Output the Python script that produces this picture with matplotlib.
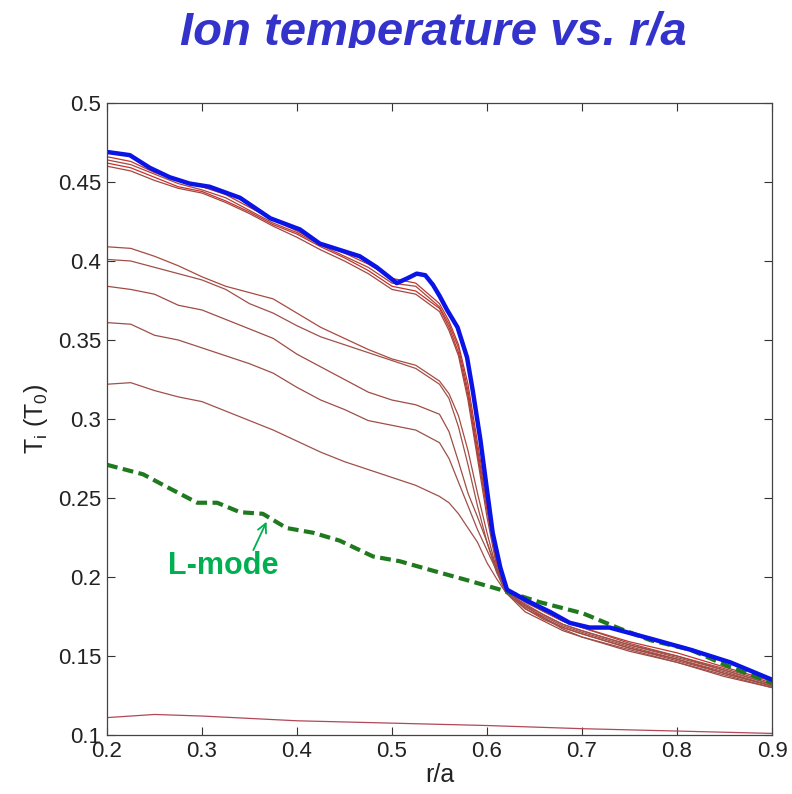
import matplotlib
matplotlib.use("Agg")
import matplotlib.pyplot as plt
from matplotlib.transforms import Bbox, TransformedBbox

plt.rcParams['font.family'] = ['Liberation Sans', 'DejaVu Sans']

# radial grid shared by the thin profiles
r = [0.20, 0.225, 0.25, 0.275, 0.30, 0.325, 0.35, 0.375, 0.40, 0.425, 0.45, 0.475,
     0.50, 0.525, 0.55, 0.56, 0.57, 0.58, 0.59, 0.60, 0.61, 0.62, 0.64, 0.66,
     0.68, 0.70, 0.75, 0.80, 0.85, 0.90]

# profiles close to the final H-mode state
ti_a1 = [0.466, 0.463, 0.456, 0.451, 0.447, 0.442, 0.434, 0.426, 0.419, 0.411, 0.405, 0.398,
         0.389, 0.386, 0.373, 0.362, 0.347, 0.322, 0.285, 0.248, 0.213, 0.193, 0.185, 0.178,
         0.172, 0.168, 0.159, 0.152, 0.143, 0.134]
ti_a2 = [0.464, 0.461, 0.455, 0.449, 0.445, 0.440, 0.432, 0.424, 0.418, 0.410, 0.403, 0.396,
         0.386, 0.384, 0.371, 0.360, 0.345, 0.318, 0.281, 0.245, 0.211, 0.192, 0.182, 0.176,
         0.170, 0.166, 0.157, 0.150, 0.141, 0.132]
ti_a3 = [0.462, 0.459, 0.453, 0.447, 0.444, 0.438, 0.431, 0.423, 0.417, 0.409, 0.402, 0.394,
         0.384, 0.381, 0.370, 0.358, 0.342, 0.315, 0.278, 0.242, 0.209, 0.191, 0.180, 0.174,
         0.168, 0.164, 0.155, 0.148, 0.139, 0.131]
ti_a4 = [0.460, 0.457, 0.451, 0.446, 0.443, 0.437, 0.430, 0.422, 0.415, 0.407, 0.400, 0.392,
         0.382, 0.379, 0.368, 0.356, 0.340, 0.312, 0.275, 0.238, 0.207, 0.190, 0.178, 0.172,
         0.166, 0.162, 0.153, 0.146, 0.137, 0.130]

# intermediate profiles during the transition
ti_b1 = [0.409, 0.408, 0.403, 0.397, 0.390, 0.384, 0.380, 0.376, 0.367, 0.358, 0.351, 0.344,
         0.338, 0.334, 0.324, 0.316, 0.302, 0.280, 0.253, 0.228, 0.205, 0.191, 0.184, 0.178,
         0.172, 0.168, 0.158, 0.150, 0.142, 0.133]
ti_b2 = [0.401, 0.400, 0.396, 0.392, 0.388, 0.382, 0.373, 0.367, 0.359, 0.352, 0.347, 0.342,
         0.337, 0.332, 0.322, 0.313, 0.295, 0.271, 0.245, 0.222, 0.203, 0.190, 0.181, 0.175,
         0.169, 0.165, 0.156, 0.148, 0.140, 0.131]
ti_b3 = [0.384, 0.382, 0.379, 0.372, 0.369, 0.363, 0.357, 0.351, 0.341, 0.333, 0.325, 0.317,
         0.312, 0.309, 0.303, 0.292, 0.273, 0.253, 0.238, 0.222, 0.205, 0.190, 0.180, 0.173,
         0.168, 0.164, 0.155, 0.147, 0.139, 0.131]
ti_b4 = [0.361, 0.360, 0.353, 0.350, 0.345, 0.340, 0.335, 0.329, 0.320, 0.312, 0.306, 0.299,
         0.296, 0.293, 0.285, 0.275, 0.260, 0.245, 0.230, 0.217, 0.204, 0.190, 0.182, 0.174,
         0.167, 0.162, 0.154, 0.146, 0.138, 0.130]
ti_b5 = [0.322, 0.323, 0.318, 0.314, 0.311, 0.305, 0.299, 0.293, 0.286, 0.279, 0.273, 0.268,
         0.263, 0.258, 0.251, 0.247, 0.240, 0.231, 0.222, 0.209, 0.199, 0.190, 0.183, 0.176,
         0.170, 0.166, 0.157, 0.149, 0.141, 0.132]

# initial low profile
r_init = [0.20, 0.25, 0.30, 0.40, 0.50, 0.60, 0.70, 0.80, 0.90]
ti_init = [0.111, 0.113, 0.112, 0.109, 0.1075, 0.106, 0.104, 0.1025, 0.101]

# L-mode reference profile
r_lmode = [0.200, 0.238, 0.263, 0.295, 0.316, 0.340, 0.364, 0.389, 0.417, 0.445, 0.480,
           0.508, 0.543, 0.579, 0.614, 0.656, 0.701, 0.737, 0.772, 0.814, 0.856, 0.900]
ti_lmode = [0.271, 0.265, 0.257, 0.247, 0.247, 0.241, 0.240, 0.231, 0.228, 0.223, 0.213,
            0.210, 0.204, 0.198, 0.192, 0.184, 0.177, 0.168, 0.160, 0.154, 0.143, 0.133]

# final H-mode profile
r_final = [0.200, 0.224, 0.245, 0.266, 0.287, 0.308, 0.340, 0.372, 0.403, 0.424, 0.445,
           0.466, 0.484, 0.505, 0.516, 0.526, 0.535, 0.543, 0.550, 0.558, 0.569, 0.579,
           0.585, 0.593, 0.600, 0.606, 0.614, 0.621, 0.642, 0.666, 0.687, 0.708, 0.729,
           0.772, 0.814, 0.856, 0.900]
ti_final = [0.469, 0.467, 0.459, 0.453, 0.449, 0.447, 0.440, 0.427, 0.420, 0.411, 0.407,
            0.403, 0.396, 0.386, 0.389, 0.392, 0.391, 0.385, 0.378, 0.369, 0.358, 0.339,
            0.318, 0.287, 0.255, 0.228, 0.206, 0.192, 0.185, 0.178, 0.171, 0.168, 0.168,
            0.161, 0.154, 0.146, 0.135]

xticks = [0.2, 0.3, 0.4, 0.5, 0.6, 0.7, 0.8, 0.9]
yticks = [0.1, 0.15, 0.2, 0.25, 0.3, 0.35, 0.4, 0.45, 0.5]

fig = plt.figure(figsize=(7.92, 7.94), dpi=100)
ax = fig.add_axes([107 / 792, 59 / 794, 665 / 792, 632 / 794])

thin = [(ti_a1, '#c0352c'), (ti_a2, '#a8453c'), (ti_a3, '#c8302a'), (ti_a4, '#a04840'),
        (ti_b1, '#a84a40'), (ti_b2, '#a05048'), (ti_b3, '#a04c44'), (ti_b4, '#9c5048'),
        (ti_b5, '#a0504a')]
for ti, c in thin:
    ax.plot(r, ti, color=c, lw=0.9, solid_joinstyle='round')
ax.plot(r_init, ti_init, color='#b04858', lw=0.9)

ax.plot(r_lmode, ti_lmode, color='#1f7a1f', lw=3.0, dashes=(2.6, 1.3))
ax.plot(r_final, ti_final, color='#0a14e6', lw=3.2, solid_joinstyle='round')

ax.text(0.322, 0.207, 'L-mode', color='#00b050', fontsize=22, fontweight='bold',
        ha='center', va='center')
ax.annotate('', xy=(0.368, 0.235), xytext=(0.354, 0.217),
            arrowprops=dict(arrowstyle='->', color='#00b050', lw=1.3,
                            shrinkA=0, shrinkB=0, mutation_scale=16))

ax.set_xlim(0.2, 0.9)
ax.set_ylim(0.1, 0.5)
ax.set_xticks(xticks)
ax.set_yticks(yticks)
ax.set_xticklabels([f'{t:g}' for t in xticks])
ax.set_yticklabels([f'{t:g}' for t in yticks])
ax.tick_params(direction='in', top=True, right=True, length=6, width=0.8,
               labelsize=16, colors='#333333', labelcolor='#222222', pad=4)
for s in ax.spines.values():
    s.set_color('#444444')
    s.set_linewidth(0.9)

ax.set_xlabel('r/a', fontsize=18, color='#222222', labelpad=1)
ax.set_ylabel('T$_\\mathregular{i}$ (T$_\\mathregular{0}$)', fontsize=18, color='#222222', labelpad=6)

title = fig.text(0.547, 1 - 45 / 794, 'Ion temperature vs. r/a', ha='center', va='baseline',
                 fontsize=34, fontweight='bold', fontstyle='italic', color='#3333cc')
# banner strip ends just under the baseline
title.set_clip_box(TransformedBbox(Bbox([[0, 1 - 48 / 794], [1, 1]]), fig.transFigure))

fig.savefig('out.png', dpi=100, facecolor='white')
